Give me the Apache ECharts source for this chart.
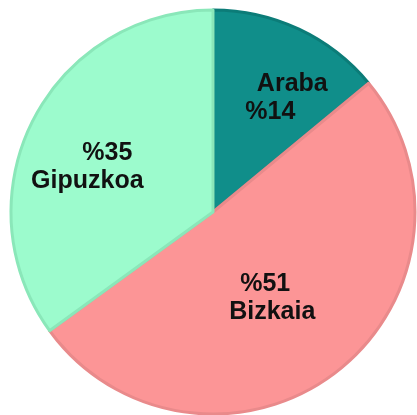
<!DOCTYPE html>
<html>
<head>
<meta charset="utf-8">
<script src="https://cdn.jsdelivr.net/npm/echarts@6/dist/echarts.min.js"></script>
<style>
  html, body { margin: 0; padding: 0; background: #fff; }
  #chart { width: 417px; height: 415px; }
</style>
</head>
<body>
<div id="chart"></div>
<script>
// data
var names = ["Araba", "Bizkaia", "Gipuzkoa"];
var values = [14, 51, 35];
var colors = ["#108e8a", "#fc9596", "#9cfbcd"];
var borders = ["#0c7c78", "#e98a8b", "#8ae7b9"];

// per-slice label tweaks (line order & nudge)
var labelStyle = [
  { pctFirst: false, offset: [24, -20], shift: 22 },
  { pctFirst: true, offset: [-8, 4], shift: -7 },
  { pctFirst: true, offset: [-23, 2], shift: 20 }
];

var chart = echarts.init(document.getElementById("chart"));

var data = names.map(function (n, i) {
  var ls = labelStyle[i];
  var pct = "%" + values[i];
  var text;
  // shift: how far the first line's center sits right of the second line's
  var s = Math.abs(ls.shift);
  var firstPad = ls.shift > 0 ? [0, 0, 0, s] : [0, s, 0, 0];
  var secondPad = ls.shift > 0 ? [0, s, 0, 0] : [0, 0, 0, s];
  if (ls.pctFirst) {
    text = "{a|" + pct + "}\n{b|" + n + "}";
  } else {
    text = "{a|" + n + "}\n{b|" + pct + "}";
  }
  return {
    name: n,
    value: values[i],
    itemStyle: { color: colors[i], borderColor: borders[i] },
    label: {
      formatter: text,
      offset: ls.offset,
      rich: {
        a: { padding: firstPad, fontSize: 25, fontWeight: "bold", color: "#111", fontFamily: "Liberation Sans, Arial, sans-serif", lineHeight: 28 },
        b: { padding: secondPad, fontSize: 25, fontWeight: "bold", color: "#111", fontFamily: "Liberation Sans, Arial, sans-serif", lineHeight: 28 }
      }
    }
  };
});

var option = {
  animation: false,
  series: [
    {
      type: "pie",
      center: [213, 212],
      radius: [0, 202],
      startAngle: 90,
      clockwise: true,
      itemStyle: {
        borderWidth: 3
      },
      label: {
        show: true,
        position: "inside"
      },
      labelLine: { show: false },
      emphasis: { disabled: true },
      data: data
    }
  ]
};

chart.setOption(option);
</script>
</body>
</html>
